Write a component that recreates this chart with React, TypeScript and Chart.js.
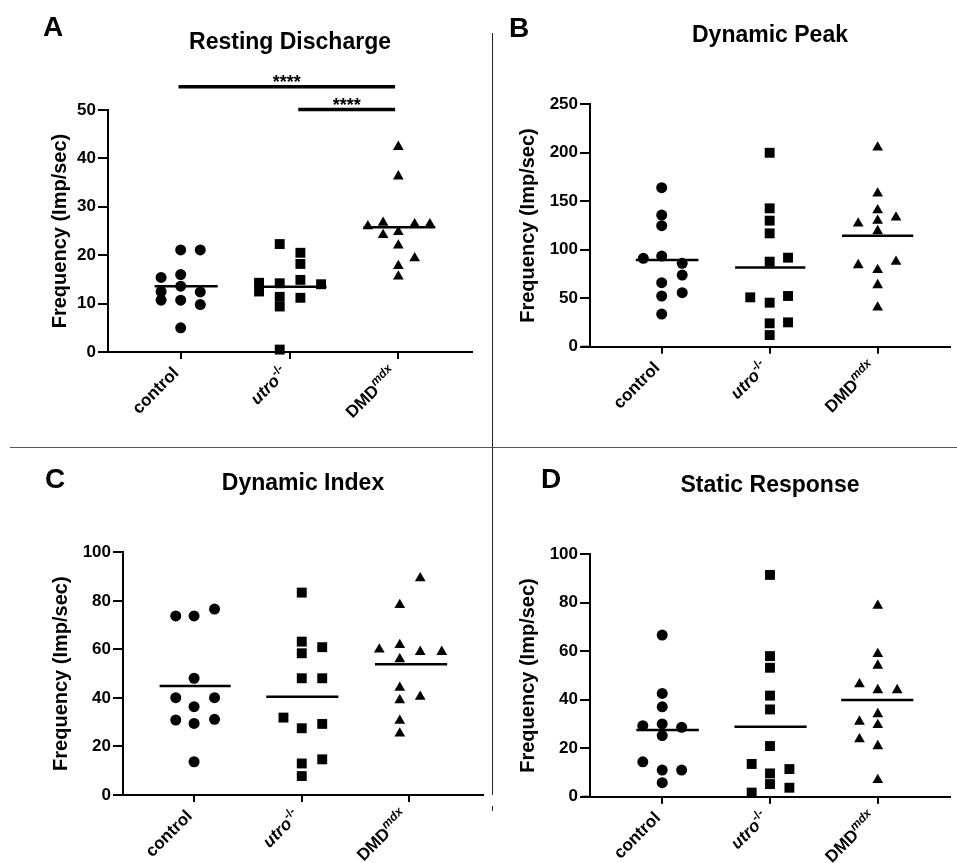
import React, { useEffect, useRef } from 'react';
import { Chart, registerables } from 'chart.js';

Chart.register(...registerables);

const FAMILY = "'Liberation Sans', Arial, Helvetica, sans-serif";

// ---------- categories ----------
const categories = ['control', 'utro-/-', 'DMDmdx'];
const categoryLabelParts = [
  [{ text: 'control', italic: false, sup: false }],
  [{ text: 'utro', italic: true, sup: false }, { text: '-/-', italic: false, sup: true }],
  [{ text: 'DMD', italic: false, sup: false }, { text: 'mdx', italic: true, sup: true }],
];

// ---------- data: [jitter offset, value] ----------
// A: Resting Discharge
const restingControl = [[0, 21.1], [0.18, 21.1], [-0.18, 15.4], [0, 16.0], [0, 13.6], [-0.18, 12.5], [0.18, 12.4], [-0.18, 10.7], [0, 10.7], [0.18, 9.8], [0, 5.0]];
const restingUtro = [[-0.09, 22.3], [0.1, 20.5], [0.1, 18.2], [-0.28, 14.3], [-0.28, 12.5], [-0.09, 14.2], [0.1, 14.9], [0.29, 14.0], [-0.09, 11.4], [-0.09, 9.4], [0.1, 11.2], [-0.09, 0.5]];
const restingDmd = [[0, 42.4], [0, 36.3], [-0.28, 26.0], [-0.14, 26.7], [0.15, 26.4], [0.29, 26.4], [-0.14, 24.2], [0, 24.8], [0, 22.0], [0.15, 19.4], [0, 17.8], [0, 15.6]];
const restingMeans = [13.6, 13.5, 25.8];
const restingSpans = [[-0.24, 0.34], [-0.25, 0.34], [-0.32, 0.34]];
const restingSig = [{ from: 0.98, to: 2.97, y: 54.8, label: '****' }, { from: 2.08, to: 2.97, y: 50.1, label: '****' }];

// B: Dynamic Peak
const peakControl = [[0, 164], [0, 135.8], [0, 124.8], [-0.17, 91.1], [0, 93.5], [0.19, 86], [0.19, 73.9], [0, 66], [0, 52.3], [0.19, 55.7], [0, 33.7]];
const peakUtro = [[0, 200], [0, 142.7], [0, 130], [0, 116.9], [0, 87.7], [0.17, 91.8], [-0.18, 50.9], [0.17, 52.3], [0, 45.4], [0, 24.1], [0.17, 25.1], [0, 12]];
const peakDmd = [[0, 205.6], [0, 158.1], [0, 140.9], [-0.18, 127.2], [0, 129.9], [0.17, 133.4], [0, 119.3], [-0.18, 84.2], [0.17, 87.6], [0, 79.1], [0, 63.6], [0, 40.6]];
const peakMeans = [89.4, 81.8, 114.5];
const peakSpans = [[-0.24, 0.34], [-0.32, 0.33], [-0.33, 0.33]];

// C: Dynamic Index
const indexControl = [[-0.17, 73.8], [0, 73.8], [0.19, 76.6], [0, 48.1], [-0.17, 40.1], [0.19, 40.1], [0, 36.4], [-0.17, 30.9], [0.19, 31.2], [0, 29.5], [0, 13.7]];
const indexUtro = [[0, 83.4], [0, 63.2], [0.19, 60.9], [0, 58.4], [0, 48.1], [0.19, 48.1], [-0.17, 31.9], [0, 27.5], [0.19, 29.3], [0.19, 14.7], [0, 13], [0, 7.8]];
const indexDmd = [[0.1, 89.3], [-0.09, 78.3], [-0.28, 60.0], [-0.09, 61.8], [0.1, 59.0], [0.3, 59.0], [-0.09, 56.0], [-0.09, 44.2], [0.1, 40.5], [-0.09, 39.1], [-0.09, 30.6], [-0.09, 25.4]];
const indexMeans = [44.9, 40.5, 53.9];
const indexSpans = [[-0.32, 0.34], [-0.33, 0.34], [-0.32, 0.35]];

// D: Static Response
const staticControl = [[0, 66.7], [0, 42.6], [0, 37.1], [-0.18, 29.3], [0, 30], [0.18, 28.6], [0, 25.2], [-0.18, 14.4], [0, 11], [0.18, 11], [0, 5.8]];
const staticUtro = [[0, 91.5], [0, 58], [0, 53.2], [0, 41.7], [0, 36], [0, 20.9], [-0.17, 13.5], [0, 9.6], [0.18, 11.4], [0, 5.2], [0.18, 3.7], [-0.17, 1.7]];
const staticDmd = [[0, 78.8], [0, 58.9], [0, 54.1], [-0.17, 46.4], [0, 44], [0.18, 44], [-0.17, 31], [0, 34.1], [0, 29.6], [-0.17, 23.7], [0, 20.9], [0, 6.9]];
const staticMeans = [27.5, 28.9, 39.9];
const staticSpans = [[-0.24, 0.34], [-0.33, 0.34], [-0.34, 0.33]];

const yTitle = 'Frequency (Imp/sec)';

// ---------- panel layout ----------
const panels = [
  { letter: 'A', title: 'Resting Discharge', left: 0, top: 0, width: 490, height: 440, padL: 48, padR: 18, yW: 60, xH: 88, tPadTop: 28.6, tPadBottom: 53.8, xMin: 0.332, xMax: 3.677, yMax: 50, yStep: 10, groups: [restingControl, restingUtro, restingDmd], means: restingMeans, spans: restingSpans, sig: restingSig, letterX: 43, letterY: 36 },
  { letter: 'B', title: 'Dynamic Peak', left: 495, top: 0, width: 462, height: 440, padL: 21.5, padR: 2, yW: 73.5, xH: 93.3, tPadTop: 21.9, tPadBottom: 54.8, xMin: 0.336, xMax: 3.67, yMax: 250, yStep: 50, groups: [peakControl, peakUtro, peakDmd], means: peakMeans, spans: peakSpans, sig: [], letterX: 14, letterY: 37 },
  { letter: 'C', title: 'Dynamic Index', left: 0, top: 448, width: 490, height: 415, padL: 49.5, padR: 2, yW: 73.5, xH: 68, tPadTop: 22, tPadBottom: 54.7, xMin: 0.34, xMax: 3.683, yMax: 100, yStep: 20, groups: [indexControl, indexUtro, indexDmd], means: indexMeans, spans: indexSpans, sig: [], letterX: 45, letterY: 40 },
  { letter: 'D', title: 'Static Response', left: 495, top: 448, width: 462, height: 415, padL: 21.5, padR: 2, yW: 73.5, xH: 66.3, tPadTop: 23.7, tPadBottom: 55, xMin: 0.33, xMax: 3.67, yMax: 100, yStep: 20, groups: [staticControl, staticUtro, staticDmd], means: staticMeans, spans: staticSpans, sig: [], letterX: 46, letterY: 40 },
];

const pointStyles = ['circle', 'rect', 'triangle'];
const pointRadii = [5.5, 7, 6.2];

const decorPlugin = {
  id: 'decor',
  afterDraw(chart: any, _args: any, opts: any) {
    const ctx = chart.ctx;
    const xs = chart.scales.x;
    const ys = chart.scales.y;
    const area = chart.chartArea;
    ctx.save();
    ctx.fillStyle = '#000';
    ctx.strokeStyle = '#000';
    // panel letter
    ctx.font = `bold 28px ${FAMILY}`;
    ctx.textAlign = 'left';
    ctx.textBaseline = 'alphabetic';
    ctx.fillText(opts.letter, opts.letterX, opts.letterY);
    // x axis extension to the left of the y axis
    ctx.lineWidth = 2;
    ctx.beginPath();
    ctx.moveTo(area.left - 8, area.bottom);
    ctx.lineTo(area.left, area.bottom);
    ctx.stroke();
    // significance stars
    ctx.font = `bold 18px ${FAMILY}`;
    ctx.textAlign = 'center';
    (opts.sig || []).forEach((s: any) => {
      const cx = (xs.getPixelForValue(s.from) + xs.getPixelForValue(s.to)) / 2;
      const cy = ys.getPixelForValue(s.y);
      ctx.fillText(s.label, cx, cy + 1);
    });
    // category labels (rotated, with superscripts)
    categoryLabelParts.forEach((parts, i) => {
      const px = xs.getPixelForValue(i + 1);
      const py = area.bottom;
      ctx.save();
      ctx.translate(px - 1, py + 22);
      ctx.rotate(-Math.PI / 4);
      const fonts = parts.map((p) => `${p.italic ? 'italic ' : ''}bold ${p.sup ? 12 : 17}px ${FAMILY}`);
      const widths = parts.map((p, k) => {
        ctx.font = fonts[k];
        return ctx.measureText(p.text).width;
      });
      const total = widths.reduce((a, b) => a + b, 0);
      let cx = -total;
      ctx.textAlign = 'left';
      ctx.textBaseline = 'alphabetic';
      parts.forEach((p, k) => {
        ctx.font = fonts[k];
        ctx.fillText(p.text, cx, p.sup ? -7 : 0);
        cx += widths[k];
      });
      ctx.restore();
    });
    ctx.restore();
  },
};

function buildConfig(p: any) {
  const datasets: any[] = [];
  p.groups.forEach((g: number[][], i: number) => {
    datasets.push({
      label: categories[i],
      data: g.map(([dx, v]) => ({ x: i + 1 + dx, y: v })),
      pointStyle: pointStyles[i],
      pointRadius: pointRadii[i],
      backgroundColor: '#000',
      borderColor: '#000',
      borderWidth: 0,
      showLine: false,
      clip: false,
    });
  });
  p.means.forEach((m: number, i: number) => {
    datasets.push({
      label: 'mean ' + categories[i],
      data: [
        { x: i + 1 + p.spans[i][0], y: m },
        { x: i + 1 + p.spans[i][1], y: m },
      ],
      showLine: true,
      pointRadius: 0,
      borderColor: '#000',
      borderWidth: 2.5,
      clip: false,
    });
  });
  p.sig.forEach((s: any) => {
    datasets.push({
      label: 'sig',
      data: [
        { x: s.from, y: s.y },
        { x: s.to, y: s.y },
      ],
      showLine: true,
      pointRadius: 0,
      borderColor: '#000',
      borderWidth: 3.5,
      clip: false,
    });
  });
  return {
    type: 'scatter',
    data: { datasets },
    plugins: [decorPlugin],
    options: {
      animation: false,
      responsive: false,
      events: [],
      layout: { padding: { left: p.padL, right: p.padR, top: 0, bottom: 0 } },
      font: { family: FAMILY },
      plugins: {
        legend: { display: false },
        tooltip: { enabled: false },
        title: {
          display: true,
          text: p.title,
          fullSize: false,
          color: '#000',
          font: { family: FAMILY, size: 23, weight: 'bold' },
          padding: { top: p.tPadTop, bottom: p.tPadBottom },
        },
        decor: { letter: p.letter, letterX: p.letterX, letterY: p.letterY, sig: p.sig },
      },
      scales: {
        x: {
          type: 'linear',
          min: p.xMin,
          max: p.xMax,
          offset: false,
          afterBuildTicks: (scale: any) => {
            scale.ticks = categories.map((_, i) => ({ value: i + 1 }));
          },
          afterFit: (scale: any) => {
            scale.height = p.xH;
          },
          ticks: { display: false },
          grid: { display: true, drawOnChartArea: false, drawTicks: true, tickLength: 7, color: '#000', lineWidth: 2 },
          border: { display: true, color: '#000', width: 2, z: 1 },
        },
        y: {
          type: 'linear',
          min: 0,
          max: p.yMax,
          afterFit: (scale: any) => {
            scale.width = p.yW;
          },
          ticks: {
            stepSize: p.yStep,
            color: '#000',
            padding: 2,
            font: { family: FAMILY, size: 17, weight: 'bold' },
          },
          grid: { display: true, drawOnChartArea: false, drawTicks: true, tickLength: 10, color: '#000', lineWidth: 2 },
          border: { display: true, color: '#000', width: 2 },
          title: {
            display: true,
            text: yTitle,
            color: '#000',
            padding: 0,
            font: { family: FAMILY, size: 20, weight: 'bold' },
          },
        },
      },
    },
  };
}

function Panel({ p }: { p: any }) {
  const ref = useRef<HTMLCanvasElement | null>(null);
  useEffect(() => {
    if (!ref.current) return;
    const chart = new Chart(ref.current, buildConfig(p) as any);
    return () => chart.destroy();
  }, [p]);
  return (
    <canvas
      ref={ref}
      width={p.width}
      height={p.height}
      style={{ position: 'absolute', left: p.left, top: p.top, width: p.width, height: p.height }}
    />
  );
}

export default function App() {
  return (
    <div style={{ position: 'absolute', left: 0, top: 0, width: 957, height: 863, background: '#fff', overflow: 'hidden' }}>
      <div style={{ position: 'absolute', left: 492, top: 33, width: 1, height: 762, background: '#222' }} />
      <div style={{ position: 'absolute', left: 492, top: 806, width: 1, height: 5, background: '#222' }} />
      <div style={{ position: 'absolute', left: 10, top: 447, width: 947, height: 1, background: '#555' }} />
      {panels.map((p) => (
        <Panel key={p.letter} p={p} />
      ))}
    </div>
  );
}
